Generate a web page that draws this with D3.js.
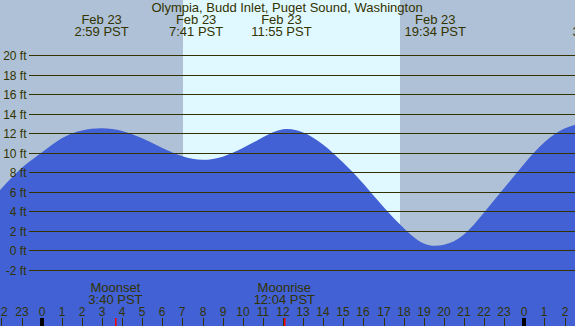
<!DOCTYPE html>
<html>
<head>
<meta charset="utf-8">
<script src="https://cdn.jsdelivr.net/npm/d3@7"></script>
<style>
html,body{margin:0;padding:0;background:#aec1d6;}
svg{display:block;}
text{font-family:"Liberation Sans",Arial,sans-serif;fill:#333300;}
</style>
</head>
<body>
<svg id="chart" width="575" height="326"></svg>
<script>
// ---- data (hours relative to Feb 23 00:00 PST) ----
const title = "Olympia, Budd Inlet, Puget Sound, Washington";
const tideHours = [-3,-2,-1,0,1,2,3,4,5,6,7,8,9,10,11,12,13,14,15,16,17,18,19,20,21,22,23,24,25,26,27,28];
const tideFeet  = [4.2,6.35,8.45,10.05,11.5,12.3,12.53,12.25,11.5,10.5,9.65,9.3,9.62,10.5,11.6,12.42,12.1,10.85,9.0,6.85,4.45,2.3,0.72,0.6,1.65,3.9,6.4,8.9,11.1,12.5,13.1,13.2];
const extremeHours = [2.98, 7.68, 11.92, 19.57, 27.75];
const extremeDates = ["Feb 23","Feb 23","Feb 23","Feb 23","Feb 24"];
const extremeTimes = ["2:59 PST","7:41 PST","11:55 PST","19:34 PST","3:45 PST"];
const sunrise = 7.03, sunset = 17.82;
const moonHours = [3.667, 12.067];
const moonNames = ["Moonset","Moonrise"];
const moonTimes = ["3:40 PST","12:04 PST"];
const yTicks = [-2,0,2,4,6,8,10,12,14,16,18,20];
const hourTicks = d3.range(-2, 27);

// ---- colours ----
const nightColor = "#aec1d6", dayColor = "#e0f8ff", waterColor = "#4161d4", inkColor = "#333300";

const W = 575, H = 326;
const svg = d3.select("#chart");
const x = d3.scaleLinear().domain([0, 24]).range([41.7, 524.3]);
const y = d3.scaleLinear().domain([-2, 20]).range([270, 55.4]);

// background
svg.append("rect").attr("x",0).attr("y",0).attr("width",W).attr("height",H).attr("fill",nightColor);
svg.append("rect").attr("x",Math.round(x(sunrise))).attr("y",0)
  .attr("width",Math.round(x(sunset))-Math.round(x(sunrise))).attr("height",H).attr("fill",dayColor);

// tide area
const pts = tideHours.map((h,i)=>({h, v: tideFeet[i]}));
const area = d3.area().x(d=>x(d.h)).y0(H).y1(d=>y(d.v)).curve(d3.curveNatural);
svg.append("path").datum(pts).attr("d", area).attr("fill", waterColor);

// grid lines and labels
yTicks.forEach(t=>{
  const yy = Math.round(y(t)) + 0.5;
  svg.append("line").attr("x1",29).attr("x2",W).attr("y1",yy).attr("y2",yy)
    .attr("stroke",inkColor).attr("stroke-width",1);
  svg.append("text").attr("x",26.5).attr("y",yy+4.3).attr("text-anchor","end")
    .attr("font-size",12).text(t+" ft");
});

// title
svg.append("text").attr("x",287).attr("y",12).attr("text-anchor","middle").attr("font-size",13).text(title);

// tide extreme labels
extremeHours.forEach((h,i)=>{
  svg.append("text").attr("x",x(h)).attr("y",24).attr("text-anchor","middle").attr("font-size",13).text(extremeDates[i]);
  svg.append("text").attr("x",x(h)).attr("y",36).attr("text-anchor","middle").attr("font-size",13).text(extremeTimes[i]);
});

// moon labels
moonHours.forEach((h,i)=>{
  svg.append("text").attr("x",x(h)).attr("y",292).attr("text-anchor","middle").attr("font-size",13).text(moonNames[i]);
  svg.append("text").attr("x",x(h)).attr("y",304).attr("text-anchor","middle").attr("font-size",13).text(moonTimes[i]);
});

// hour ticks
hourTicks.forEach(h=>{
  const xx = Math.round(x(h));
  const lab = ((h % 24) + 24) % 24;
  svg.append("text").attr("x",xx).attr("y",316).attr("text-anchor","middle").attr("font-size",12).text(lab);
  const midnight = lab === 0;
  svg.append("rect").attr("x", midnight ? xx-2 : xx).attr("y",318)
    .attr("width", midnight ? 4 : 1).attr("height",8).attr("fill", midnight ? "#000" : inkColor);
});
moonHours.forEach(h=>{
  const xx = Math.round(x(h));
  svg.append("rect").attr("x",xx).attr("y",318).attr("width",1.5).attr("height",8).attr("fill","#ff0000");
});
</script>
</body>
</html>
